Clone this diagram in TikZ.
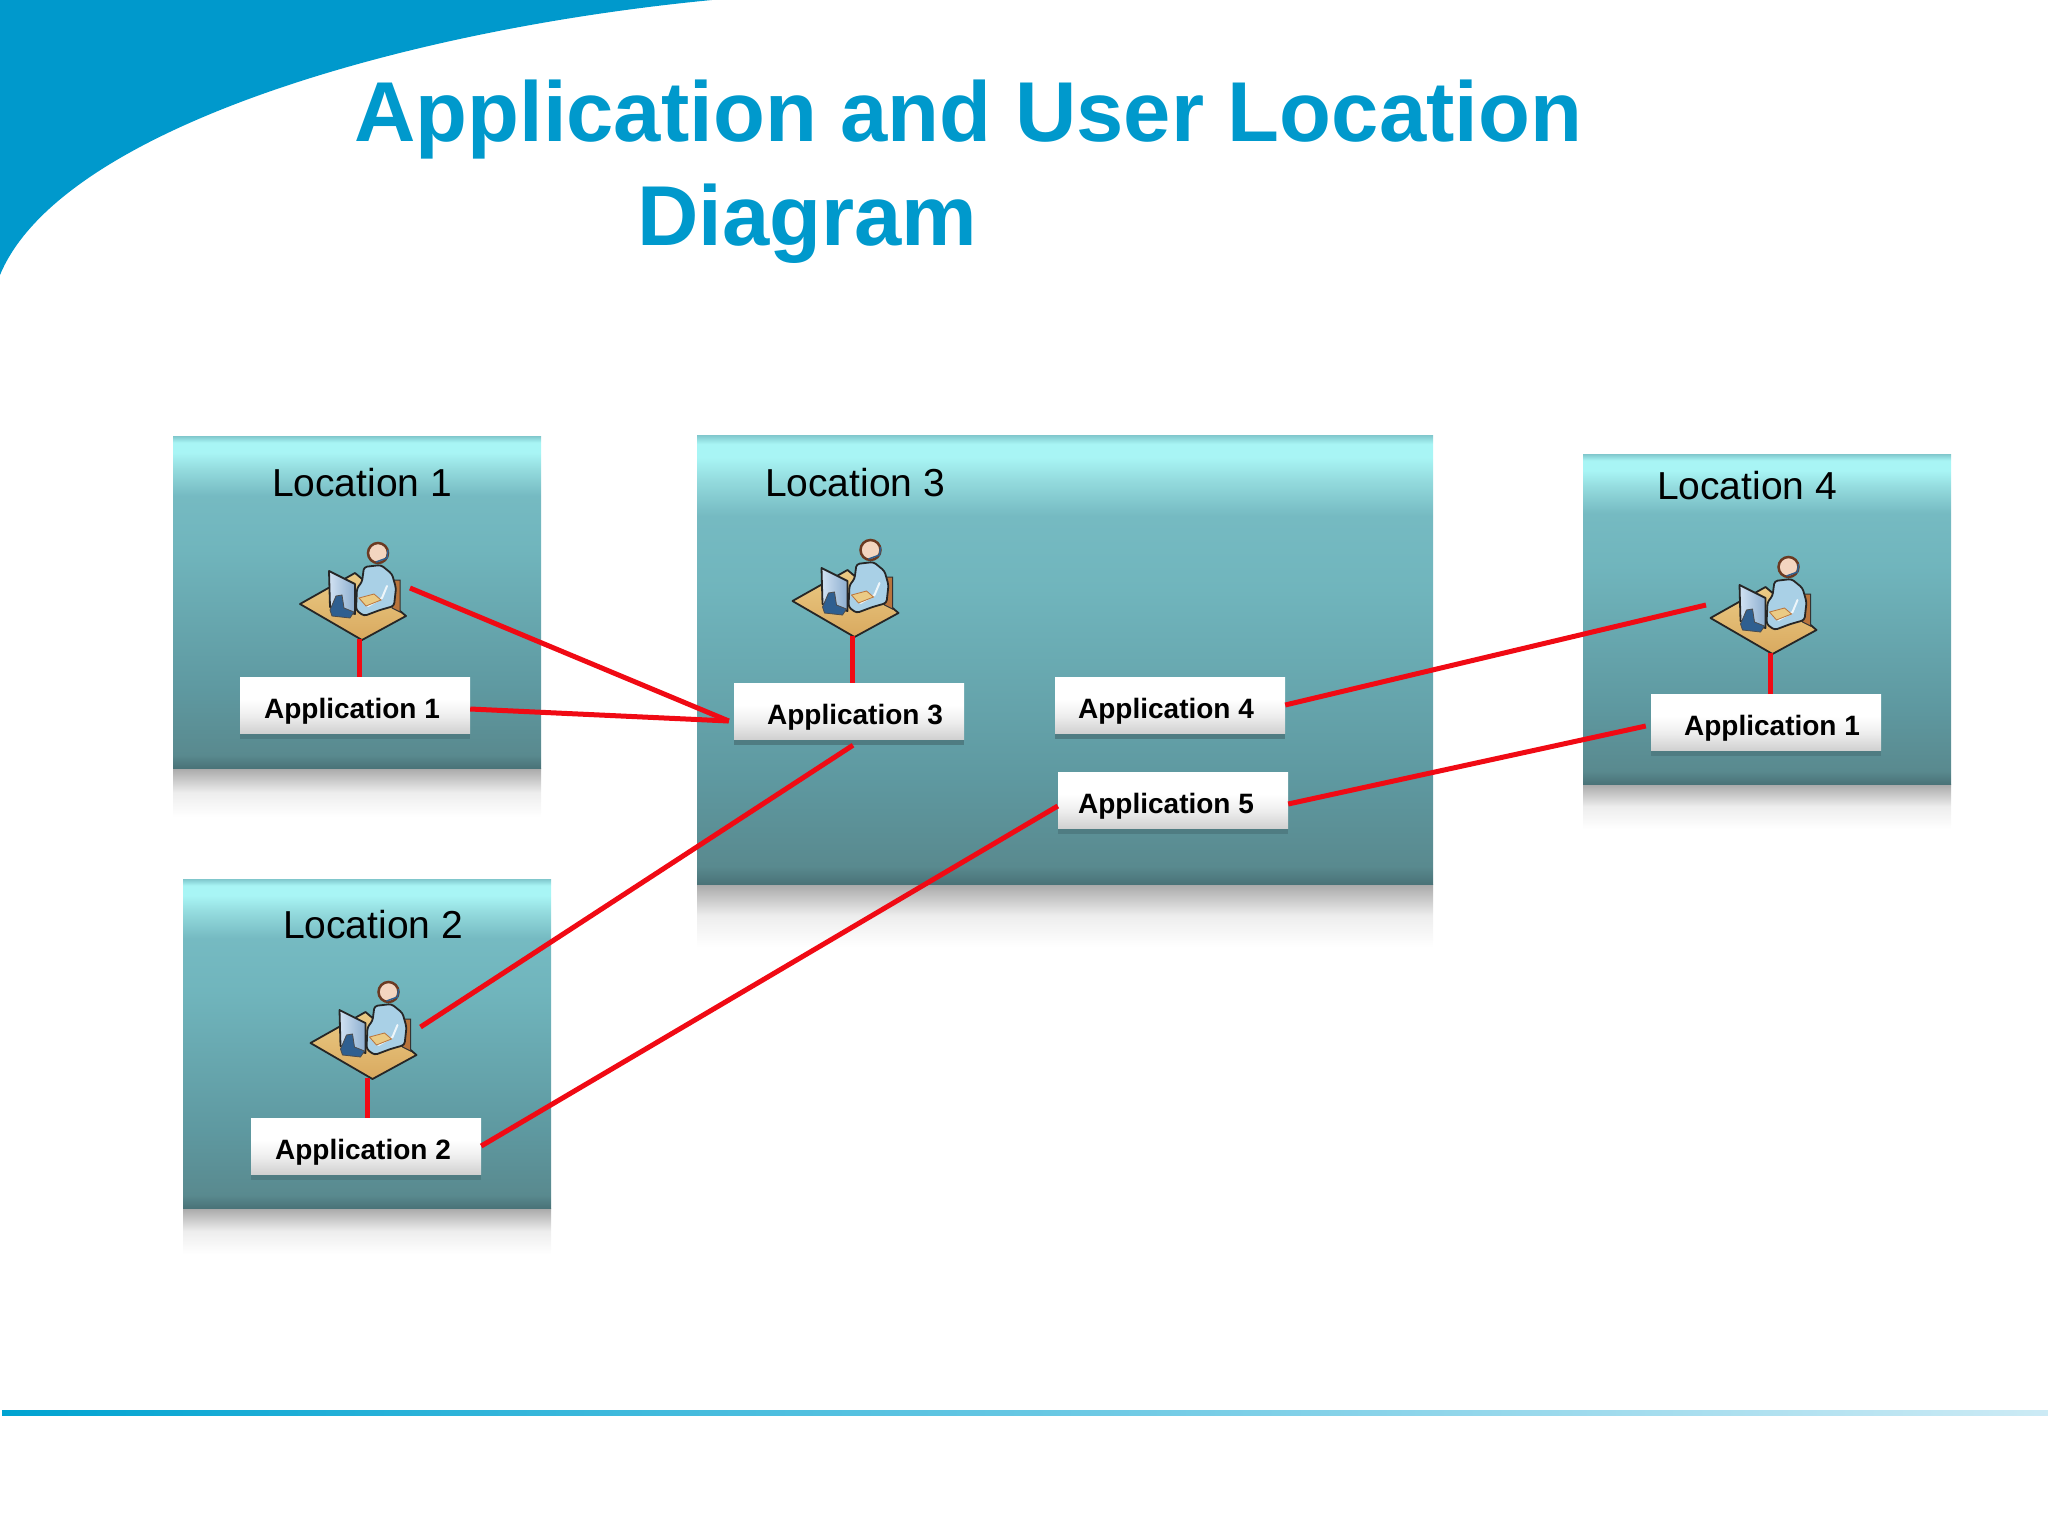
\documentclass[tikz,border=0pt]{standalone}
\usepackage{fontspec}
\setmainfont{Liberation Sans}
\usetikzlibrary{shadows}

\definecolor{titleblue}{HTML}{0099CC}
\definecolor{linkred}{HTML}{F00A14}
\definecolor{tanlight}{HTML}{EBCB85}
\definecolor{tandark}{HTML}{D9A95F}
\definecolor{shirtblue}{HTML}{A9D0E6}
\definecolor{screenblue}{HTML}{B4CFEA}
\definecolor{standblue}{HTML}{2F5F90}
\definecolor{chairbrown}{HTML}{B9743C}
\definecolor{hairbrown}{HTML}{6B3A22}
\definecolor{skin}{HTML}{F3D5C0}
\definecolor{appdrop}{HTML}{4F7C82}

\pgfdeclareverticalshading{panelshade}{100bp}{
  rgb(0bp)=(0.29,0.45,0.47);
  rgb(25bp)=(0.29,0.45,0.47);
  rgb(27bp)=(0.35,0.54,0.56);
  rgb(37bp)=(0.37,0.60,0.63);
  rgb(58bp)=(0.44,0.71,0.74);
  rgb(66bp)=(0.46,0.73,0.76);
  rgb(70bp)=(0.58,0.86,0.87);
  rgb(72.5bp)=(0.66,0.96,0.96);
  rgb(74bp)=(0.66,0.96,0.96);
  rgb(75bp)=(0.50,0.78,0.80);
  rgb(100bp)=(0.50,0.78,0.80)}
\pgfdeclareverticalshading{mirrorshade}{100bp}{
  rgb(0bp)=(1,1,1);
  rgb(25bp)=(1,1,1);
  rgb(50bp)=(0.93,0.93,0.93);
  rgb(75bp)=(0.66,0.66,0.66);
  rgb(100bp)=(0.66,0.66,0.66)}
\pgfdeclareverticalshading{appshade}{100bp}{
  rgb(0bp)=(0.82,0.82,0.82);
  rgb(25bp)=(0.82,0.82,0.82);
  rgb(40bp)=(0.93,0.93,0.93);
  rgb(55bp)=(1,1,1);
  rgb(100bp)=(1,1,1)}

\begin{document}
\begin{tikzpicture}[x=1pt,y=-1pt,
    panel/.style={shading=panelshade},
    mirror/.style={shading=mirrorshade},
    appbox/.style={shading=appshade, minimum width=230pt, minimum height=56pt, inner sep=0pt,
        general shadow={fill=appdrop, shadow xshift=0pt, shadow yshift=-6pt}},
    applabel/.style={font=\bfseries\fontsize{28}{28}\selectfont, inner sep=0pt},
    loclabel/.style={font=\fontsize{39}{39}\selectfont, inner sep=0pt},
    titlelabel/.style={font=\bfseries\fontsize{85}{85}\selectfont, text=titleblue, inner sep=0pt, anchor=base west},
    link/.style={linkred, line width=5pt},
    operator/.pic={
        % Mesa
        \filldraw[top color=tanlight, bottom color=tandark, draw=black!85, line width=1.8pt, line join=round]
            (20,74) -- (75,43) -- (126,86) -- (82,110) -- cycle;
        % Silla
        \filldraw[fill=chairbrown, draw=black!80, line width=1pt] (112,50) -- (120,50) -- (120,82) -- (112,78) -- cycle;
        % Cabeza
        \filldraw[fill=skin, draw=hairbrown, line width=2.5pt] (98,23) circle (10);
        \draw[standblue, line width=1.5pt] (108,20) -- (107,28) -- (96,32);
        % Cuerpo
        \filldraw[fill=shirtblue, draw=black!85, line width=1.8pt, line join=round, rounded corners=3pt]
            (84,37) -- (101,35) -- (112,44) -- (116,58) -- (114,76) -- (100,80) -- (84,86)
            -- (76,80) -- (77,58) -- (82,52) -- cycle;
        \draw[white!80!shirtblue, line width=2pt, line cap=round] (107,56) -- (102,68) -- (88,76);
        % Teclado
        \filldraw[fill=tanlight, draw=chairbrown, line width=.8pt] (79,68) -- (94,64) -- (101,70) -- (86,76) -- cycle;
        % Monitor
        \filldraw[left color=screenblue!60!white, right color=screenblue!70!standblue, draw=black!85, line width=1.8pt, line join=round]
            (49,41) -- (75,54) -- (75,84) -- (50,77) -- cycle;
        \filldraw[fill=standblue, draw=black!70, line width=.8pt]
            (56,66) -- (62,65) -- (64,78) -- (74,82) -- (70,88) -- (52,86) -- (50,80) -- cycle;
        % Puertos
        \coordinate (-east) at (130,58);
        \coordinate (-west) at (15.5,61);
        \coordinate (-south) at (80,109);
    }]
    \useasboundingbox (0,0) rectangle (2048,1536);

    % Fondo
    \fill[titleblue] (0,0) -- (712,0) .. controls (400,30) and (60,130) .. (0,275) -- cycle;
    \shade[left color=titleblue!90!cyan, right color=titleblue!20!white] (2,1410) rectangle (2048,1415);

    % Titulo
    \node[titlelabel] (title1) at (354,142) {Application and User Location};
    \node[titlelabel] (title2) at (637,245) {Diagram};

    % Ubicaciones (reflejo y panel)
    \foreach \n/\xa/\ya/\xb/\yb/\yc/\tx/\ty in {
        1/173/436/541/768/817/362/483,
        2/183/879/551/1208/1254/373/925,
        3/697/435/1433/884/947/855/483,
        4/1583/454/1951/784/829/1747/486} {
        \shade[mirror] (\xa,\yb) rectangle (\xb,\yc);
        \shade[panel] (\xa,\ya) rectangle (\xb,\yb);
        \node[loclabel] (loc\n) at (\tx,\ty) {Location \n};
    }

    % Usuarios
    \pic (user1) at (280,530) {operator};
    \pic (user2) at (290.5,969) {operator};
    \pic (user3) at (772.5,527) {operator};
    \pic (user4) at (1690.5,544) {operator};

    % Aplicaciones
    \foreach \n/\t/\x/\y/\dx in {
        1/1/355/705/-3,
        2/2/366/1146/-3,
        3/3/849/711/6,
        4/4/1170/705/-4,
        5/5/1173/800/-7,
        6/1/1766/722/6} {
        \node[appbox] (app\n) at (\x,\y) {};
        \node[applabel] (apptext\n) at ([xshift=\dx pt,yshift=-6pt]app\n.center) {Application \t};
    }

    % Enlaces
    \draw[link] ([xshift=-1pt]user1-south) -- ([xshift=-1pt]user1-south |- app1.north);
    \draw[link] ([xshift=-3pt]user2-south) -- ([xshift=-3pt]user2-south |- app2.north);
    \draw[link] (user3-south) -- (user3-south |- app3.north);
    \draw[link] (user4-south) -- (user4-south |- app6.north);
    \draw[link] (user1-east) -- ([xshift=-5pt,yshift=-10pt]app3.west);
    \draw[link] ([yshift=-4pt]app1.east) -- ([xshift=-5pt,yshift=-10pt]app3.west);
    \draw[link] ([xshift=4pt,yshift=-6pt]app3.south) -- (user2-east);
    \draw[link] (app2.east) -- ([yshift=-6pt]app5.west);
    \draw[link] (app4.east) -- (user4-west);
    \draw[link] ([yshift=-4pt]app5.east) -- ([xshift=-5pt,yshift=-4pt]app6.west);
\end{tikzpicture}
\end{document}
